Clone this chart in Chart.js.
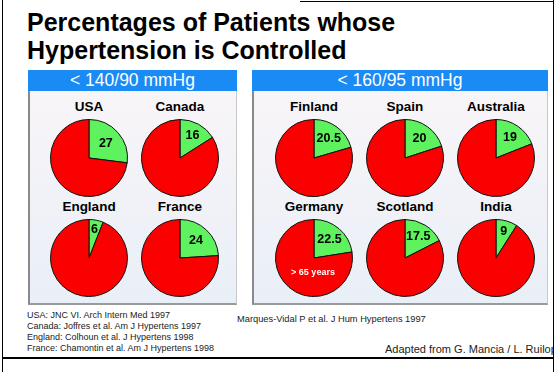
<!DOCTYPE html>
<html>
<head>
<meta charset="utf-8">
<script src="https://cdn.jsdelivr.net/npm/chart.js@4.4.1/dist/chart.umd.min.js"></script>
<style>
  html, body { margin:0; padding:0; background:#fff; }
  body { width:556px; height:372px; position:relative; overflow:hidden; font-family:"Liberation Sans", Arial, sans-serif; }
  .abs { position:absolute; }
  .title { left:27px; top:8px; font-size:25px; font-weight:bold; line-height:28px; color:#000; white-space:nowrap; }
  .panel { background:linear-gradient(#f8f5f8, #e9eff7); border-left:2px solid #8a8a8a; border-bottom:2px solid #9a9a9a; border-right:1px solid #c8c8c8; box-sizing:border-box; }
  .hdr { background:#1a8bf5; color:#fff; font-size:17.5px; text-align:center; line-height:21px; }
  .ctry { font-size:13.5px; font-weight:bold; color:#000; text-align:center; width:100px; margin-left:-50px; line-height:14px; }
  .cite { font-size:9px; color:#222; white-space:nowrap; line-height:11px; }
  canvas.pie { position:absolute; }
</style>
</head>
<body>
<div class="abs" style="left:2px;top:0;width:1px;height:372px;background:#000"></div>
<div class="abs" style="left:553px;top:0;width:1px;height:372px;background:#000"></div>
<div class="abs" style="left:300px;top:1px;width:254px;height:1px;background:#000"></div>
<div class="abs" style="left:2px;top:357px;width:552px;height:2px;background:#000"></div>

<div class="abs title">Percentages of Patients whose<br>Hypertension is Controlled</div>

<div id="panels"></div>

<div class="abs cite" style="left:27px;top:310px">USA: JNC VI. Arch Intern Med 1997<br>Canada: Joffres et al. Am J Hypertens 1997<br>England: Colhoun et al. J Hypertens 1998<br>France: Chamontin et al. Am J Hypertens 1998</div>
<div class="abs cite" style="left:237px;top:314px;font-size:9.3px">Marques-Vidal P et al. J Hum Hypertens 1997</div>
<div class="abs" style="left:385px;top:343px;width:168px;height:14px;overflow:hidden">
  <div class="cite" style="font-size:11px;line-height:13px;color:#222">Adapted from G. Mancia / L. Ruilope</div>
</div>

<script>
// ---- data ----
const groupLabels = ["< 140/90 mmHg", "< 160/95 mmHg"];
const countriesA = ["USA", "Canada", "England", "France"];
const controlledA = [27, 16, 6, 24];
const countriesB = ["Finland", "Spain", "Australia", "Germany", "Scotland", "India"];
const controlledB = [20.5, 20, 19, 22.5, 17.5, 9];
const noteCountry = "Germany";
const noteText = "> 65 years";

// ---- layout (styling only) ----
const panelsEl = document.getElementById('panels');
const panelBoxes = [
  {x:28, y:70, w:209, h:235, cols:[89,180], rows:[158,258]},
  {x:252, y:70, w:296, h:235, cols:[314,405,496], rows:[158,258]}
];
const RADIUS = 38;

const valueLabels = {
  id: 'valueLabels',
  afterDatasetsDraw(chart) {
    const ctx = chart.ctx;
    const meta = chart.getDatasetMeta(0);
    const arc = meta.data[0];
    const p = arc.getProps(['x','y','startAngle','endAngle','outerRadius'], true);
    const v = chart.data.datasets[0].data[0];
    const mid = (p.startAngle + p.endAngle) / 2;
    const f = 0.8 - 0.008 * v;
    const r = p.outerRadius * f;
    ctx.save();
    ctx.font = 'bold 12.5px "Liberation Sans", Arial, sans-serif';
    ctx.fillStyle = '#000';
    ctx.textAlign = 'center';
    ctx.textBaseline = 'middle';
    ctx.fillText(String(v), p.x + Math.cos(mid) * r, p.y + Math.sin(mid) * r);
    const note = chart.options.plugins.valueLabels.note;
    if (note) {
      ctx.font = 'bold 9px "Liberation Sans", Arial, sans-serif';
      ctx.fillStyle = '#fff';
      ctx.fillText(note, p.x - 1, p.y + 15);
    }
    ctx.restore();
  }
};

function addPie(cx, cy, name, value) {
  const t = document.createElement('div');
  t.className = 'abs ctry';
  t.style.left = cx + 'px';
  t.style.top = (cy - 58) + 'px';
  t.textContent = name;
  document.body.appendChild(t);

  const size = RADIUS * 2 + 2;
  const c = document.createElement('canvas');
  c.className = 'pie';
  c.width = size; c.height = size;
  c.style.width = size + 'px'; c.style.height = size + 'px';
  c.style.left = (cx - size / 2) + 'px';
  c.style.top = (cy - size / 2) + 'px';
  document.body.appendChild(c);

  new Chart(c, {
    type: 'pie',
    data: {
      labels: ['Controlled', 'Not controlled'],
      datasets: [{
        data: [value, 100 - value],
        backgroundColor: ['#5ef25e', '#fa0000'],
        borderColor: '#111',
        borderWidth: 1
      }]
    },
    options: {
      responsive: false,
      animation: false,
      layout: { padding: 0 },
      plugins: {
        legend: { display: false },
        tooltip: { enabled: false },
        valueLabels: { note: name === noteCountry ? noteText : null }
      }
    },
    plugins: [valueLabels]
  });
}

const groups = [
  {names: countriesA, vals: controlledA},
  {names: countriesB, vals: controlledB}
];

groups.forEach((g, gi) => {
  const b = panelBoxes[gi];
  const hdr = document.createElement('div');
  hdr.className = 'abs hdr';
  hdr.style.left = b.x + 'px'; hdr.style.top = b.y + 'px';
  hdr.style.width = b.w + 'px'; hdr.style.height = '21px';
  hdr.textContent = groupLabels[gi];
  panelsEl.appendChild(hdr);
  const body = document.createElement('div');
  body.className = 'abs panel';
  body.style.left = b.x + 'px'; body.style.top = (b.y + 21) + 'px';
  body.style.width = b.w + 'px'; body.style.height = (b.h - 21) + 'px';
  panelsEl.appendChild(body);
  const nc = b.cols.length;
  g.names.forEach((n, i) => {
    addPie(b.cols[i % nc], b.rows[Math.floor(i / nc)], n, g.vals[i]);
  });
});
</script>
</body>
</html>
